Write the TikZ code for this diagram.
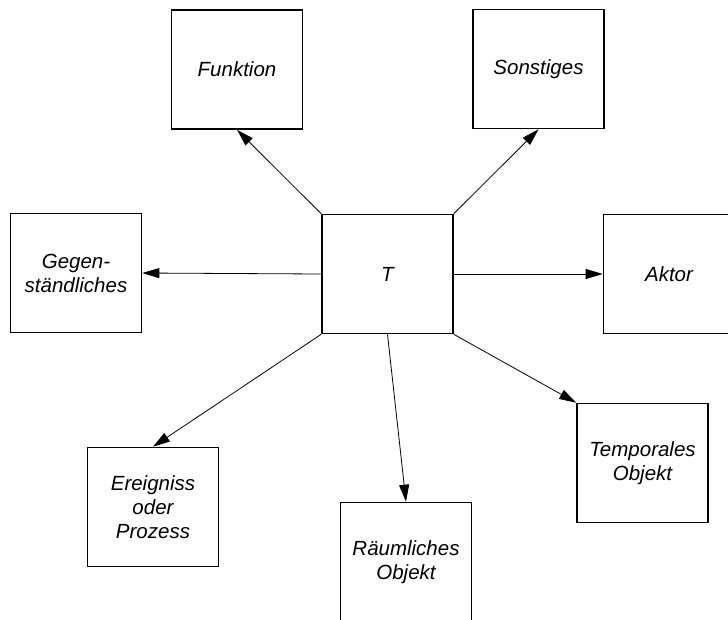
\documentclass[tikz,border=0pt]{standalone}
\usepackage{fontspec}
\setmainfont{Liberation Sans}
\usetikzlibrary{arrows.meta}
\begin{document}
\begin{tikzpicture}[x=1pt,y=-1pt,
  box/.style={draw=black, line width=1.6pt, fill=white, minimum width=131pt,
    minimum height=119pt, inner sep=0pt, align=center,
    font=\fontsize{20.5}{24}\selectfont\itshape},
  link/.style={line width=0.8pt, -{Triangle[length=17pt,width=10pt]}}]
\useasboundingbox (0,0) rectangle (728,619);
% hub
\node[box] (T) at (387.5,274) {T};
% surrounding categories
\node[box] (funk) at (237,69.5) {Funktion};
\node[box] (sonst) at (538.5,69) {Sonstiges};
\node[box] (gegen) at (76,273) {Gegen-\\ständliches};
\node[box] (aktor) at (669,274) {Aktor};
\node[box] (ereig) at (153,507) {Ereigniss\\oder\\Prozess};
\node[box] (raum) at (406,562) {Räumliches\\Objekt};
\node[box] (temp) at (642.5,463) {Temporales\\Objekt};
% connectors from the hub
\draw[link] (T.north west) -- (funk.south);
\draw[link] (T.north east) -- (sonst.south);
\draw[link] (T.west) -- (gegen.east);
\draw[link] (T.east) -- (aktor.west);
\draw[link] (T.south west) -- (ereig.north);
\draw[link] (T.south) -- (raum.north);
\draw[link] (T.south east) -- (temp.north west);
\end{tikzpicture}
\end{document}
